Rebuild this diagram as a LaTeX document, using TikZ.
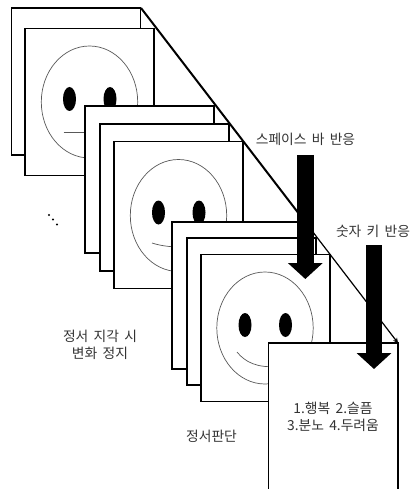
\documentclass[tikz,border=0pt]{standalone}
\usepackage{fontspec}
\setmainfont[WordSpace=1.7]{Noto Sans CJK KR}
\usetikzlibrary{arrows.meta}
\definecolor{labelgray}{gray}{0.2}
\definecolor{facegray}{gray}{0.35}
\tikzset{
  card/.style={draw=black,fill=white,line width=1.3pt},
  faceline/.style={draw=facegray,line width=0.7pt},
  eye/.style={fill=black,draw=none},
  label/.style={text=labelgray,font=\fontsize{13.8}{17}\selectfont,align=center,inner sep=0pt},
  bigarrow/.style={line width=16.5pt,draw=black,-{Triangle[width=34pt,length=16pt]}},
  timeline/.style={draw=black,line width=2pt},
  dot/.style={circle,fill=black,inner sep=0pt,minimum size=2.2pt}
}
% Card of 129 x 147 with its top left corner at (#1,#2)
\newcommand{\stimcard}[2]{\path[card] (#1,#2) rectangle ++(129,147);}
% Face with centre (#1,#2); #3 is the mouth path relative to the centre
\newcommand{\stimface}[3]{%
  \begin{scope}[shift={(#1,#2)}]
    \path[faceline,fill=white] (0,0) ellipse [x radius=48.2,y radius=56];
    \path[eye] (-20,-3) ellipse [x radius=6.5,y radius=12];
    \path[eye] (20.5,-3) ellipse [x radius=6.5,y radius=12];
    \path[faceline] #3;
  \end{scope}}
\begin{document}
\begin{tikzpicture}[x=1pt,y=-1pt]
\useasboundingbox (0,0) rectangle (413,489);

% first stack
\stimcard{11.5}{8}
\stimcard{25}{28.5}
\stimface{89.5}{102}{(-26,30) -- (20,30)}

% second stack
\stimcard{85}{106}
\stimcard{100}{124}
\stimcard{114}{141.5}
\stimface{178.5}{215.5}{(-26.5,27.5) .. controls (-17,30.5) and (-8,32) .. (20,32)}

% third stack
\stimcard{172}{222}
\stimcard{187}{238}
\stimcard{201}{254.5}
\stimface{265}{328}{(-28,24) .. controls (-20,34) and (-8,40) .. (12,38.5)}

% response screen, running off the lower edge
\filldraw[card] (268.5,488.5) -- (268.5,343) -- (398,343) -- (398,488.5);

% time axis
\coordinate (axisstart) at (141,8);
\coordinate (axismid) at (313.5,232.8);
\coordinate (axisend) at (398,343);
\draw[timeline] (axisstart) -- (axismid);
\draw[draw=black,line width=1.2pt,-{Stealth[length=5pt,width=5pt]}] (axismid) -- (axisend);

% response arrows
\coordinate (spacetop) at (305.3,155);
\coordinate (spacetip) at (305.3,279);
\coordinate (numtop) at (374,245);
\coordinate (numtip) at (374,369);
\draw[bigarrow] (spacetop) -- (spacetip);
\draw[bigarrow] (numtop) -- (numtip);

% sequence dots
\node[dot] (dota) at (49,215) {};
\node[dot] (dotb) at (53,219.5) {};
\node[dot] (dotc) at (57,224.5) {};

% labels
\node[label] (spacelabel) at (305.5,139) {스페이스 바 반응};
\node[label] (numlabel) at (373,231) {숫자 키 반응};
\node[label] (stoplabel) at (100,345) {정서 지각 시\\변화 정지};
\node[label] (judgelabel) at (211.5,436) {정서판단};
\node[label] (choicelabel) at (333,416.5) {1.행복 2.슬픔\\3.분노 4.두려움};
\end{tikzpicture}
\end{document}
